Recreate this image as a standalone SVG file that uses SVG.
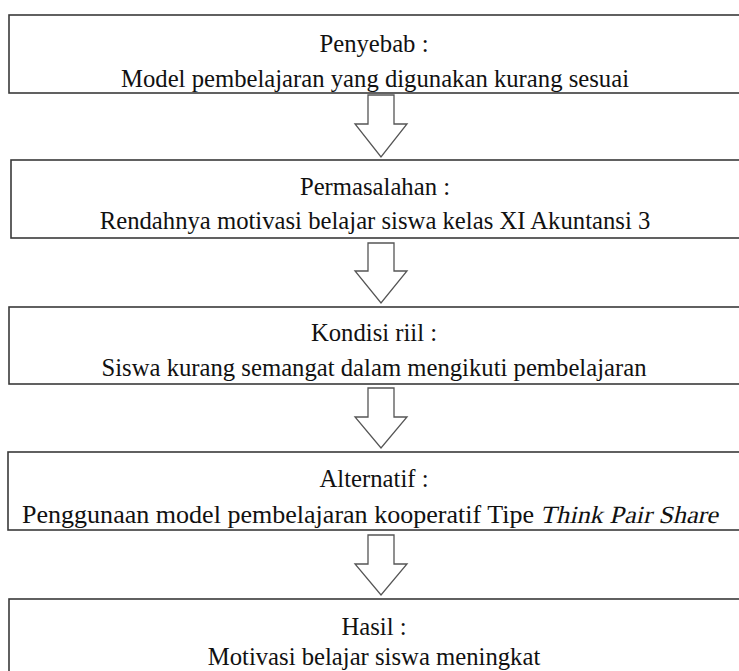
<svg xmlns="http://www.w3.org/2000/svg" width="739" height="671" viewBox="0 0 739 671">
<style>
.box{fill:#fff;stroke:#3a3a3a;stroke-width:1.6}
.arr{fill:#fff;stroke:#555;stroke-width:1.3;stroke-linejoin:miter}
text{font-family:"Liberation Serif","Times New Roman",serif;font-size:24.7px;fill:#111;text-anchor:middle}
text.l{text-anchor:start}
</style>
<rect width="739" height="671" fill="#fff"/>
<g id="connectors">
<path class="arr" d="M368,95 H394 V124 H407 L381,157 L355,124 H368 Z"/>
<path class="arr" d="M368,243 H394 V271 H407 L381,303 L355,271 H368 Z"/>
<path class="arr" d="M368,388 H394 V417 H407 L381,448 L355,417 H368 Z"/>
<path class="arr" d="M368,535 H394 V564 H407 L381,595 L355,564 H368 Z"/>
</g>
<g id="penyebab">
<rect class="box" x="9" y="15" width="740" height="78"/>
<text x="374" y="52">Penyebab :</text>
<text x="375" y="87">Model pembelajaran yang digunakan kurang sesuai</text>
</g>
<g id="permasalahan">
<rect class="box" x="11" y="160" width="740" height="78"/>
<text x="375" y="195">Permasalahan :</text>
<text x="375" y="229">Rendahnya motivasi belajar siswa kelas XI Akuntansi 3</text>
</g>
<g id="kondisi">
<rect class="box" x="9" y="307" width="740" height="77"/>
<text x="374" y="341">Kondisi riil :</text>
<text x="374" y="376">Siswa kurang semangat dalam mengikuti pembelajaran</text>
</g>
<g id="alternatif">
<rect class="box" x="8" y="452" width="740" height="78"/>
<text x="374" y="487">Alternatif :</text>
<text class="l" x="22" y="523" textLength="512" lengthAdjust="spacingAndGlyphs">Penggunaan model pembelajaran kooperatif Tipe</text>
<text class="l" transform="translate(540,523) skewX(-13)" textLength="178" lengthAdjust="spacingAndGlyphs">Think Pair Share</text>
</g>
<g id="hasil">
<rect class="box" x="9" y="599" width="740" height="90"/>
<text x="374" y="635">Hasil :</text>
<text x="374" y="665">Motivasi belajar siswa meningkat</text>
</g>
</svg>
